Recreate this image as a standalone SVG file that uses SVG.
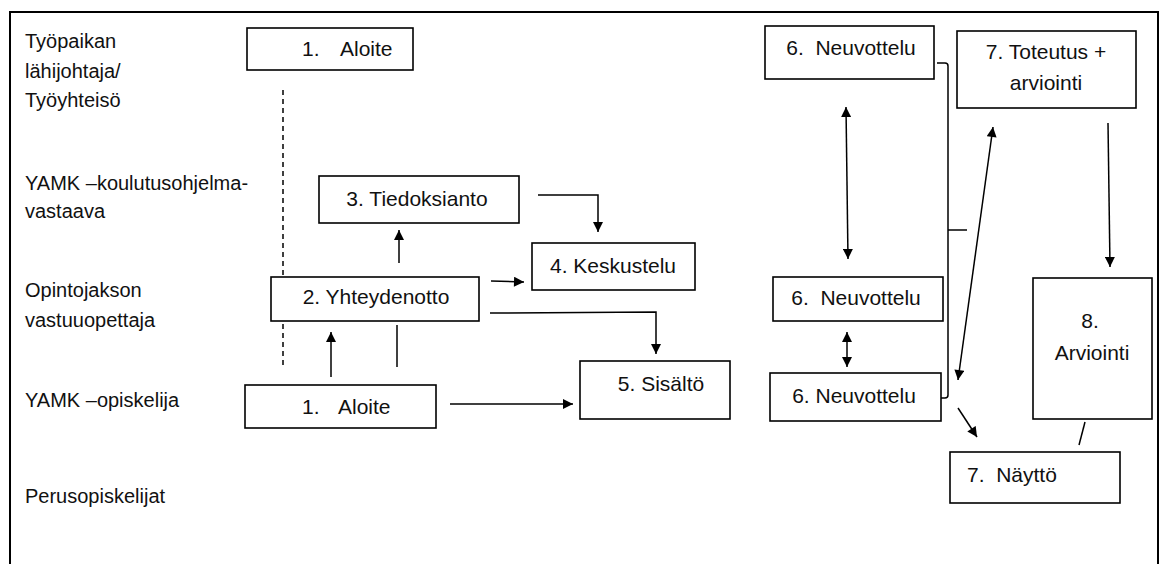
<svg xmlns="http://www.w3.org/2000/svg" width="1164" height="564" viewBox="0 0 1164 564">
<style>
text{font-family:"Liberation Sans",Arial,sans-serif;font-size:20px;fill:#111}
.box{fill:#fff;stroke:#000;stroke-width:1.6}
.ln{fill:none;stroke:#000;stroke-width:1.5}
.c{text-anchor:middle}
.nt{font-size:21px}
</style>
<defs>
<marker id="ah" viewBox="0 0 10 10" refX="10" refY="5" markerWidth="11" markerHeight="10" markerUnits="userSpaceOnUse" orient="auto-start-reverse">
<path d="M0,0 L10,5 L0,10 z" fill="#000"/>
</marker>
</defs>
<rect x="0" y="0" width="1164" height="564" fill="#fff"/>
<path d="M10,564 V12 H1158 V564" fill="none" stroke="#000" stroke-width="2"/>
<g id="lanes">
<text x="25" y="48">Työpaikan</text>
<text x="25" y="78">lähijohtaja/</text>
<text x="25" y="107">Työyhteisö</text>
<text x="25" y="190">YAMK –koulutusohjelma-</text>
<text x="25" y="218">vastaava</text>
<text x="25" y="297">Opintojakson</text>
<text x="25" y="327">vastuuopettaja</text>
<text x="25" y="407">YAMK –opiskelija</text>
<text x="25" y="503">Perusopiskelijat</text>
</g>
<g id="connectors">
<line class="ln" x1="283" y1="90" x2="283" y2="365" stroke-dasharray="5,4"/>
<line class="ln" x1="331" y1="377" x2="331" y2="332" marker-end="url(#ah)"/>
<line class="ln" x1="397" y1="325" x2="397" y2="367"/>
<line class="ln" x1="399" y1="263" x2="399" y2="230" marker-end="url(#ah)"/>
<polyline class="ln" points="538,195 598,195 598,232" marker-end="url(#ah)"/>
<line class="ln" x1="491" y1="281" x2="524" y2="282" marker-end="url(#ah)"/>
<polyline class="ln" points="490,313 656,312 656,354" marker-end="url(#ah)"/>
<line class="ln" x1="450" y1="404" x2="573" y2="404" marker-end="url(#ah)"/>
<line class="ln" x1="846" y1="107" x2="848" y2="259" marker-start="url(#ah)" marker-end="url(#ah)"/>
<line class="ln" x1="847" y1="332" x2="847" y2="367" marker-start="url(#ah)" marker-end="url(#ah)"/>
<path class="ln" d="M937,63 H945 Q948,63 948,66 V395 Q948,398 945,398 H938"/>
<line class="ln" x1="948" y1="230" x2="967" y2="230"/>
<line class="ln" x1="993" y1="127" x2="958" y2="380" marker-start="url(#ah)" marker-end="url(#ah)"/>
<line class="ln" x1="1108" y1="123" x2="1110" y2="267" marker-end="url(#ah)"/>
<line class="ln" x1="958" y1="408" x2="977" y2="437" marker-end="url(#ah)"/>
<line class="ln" x1="1085" y1="422" x2="1079" y2="445"/>
</g>
<g id="n1a">
<rect class="box" x="247" y="28" width="166" height="42"/>
<text class="nt" y="56"><tspan x="302">1.</tspan><tspan x="340">Aloite</tspan></text>
</g>
<g id="n3">
<rect class="box" x="319" y="176" width="200" height="47"/>
<text class="c nt" x="417" y="206">3. Tiedoksianto</text>
</g>
<g id="n4">
<rect class="box" x="532" y="243" width="163" height="47"/>
<text class="c nt" x="613" y="273">4. Keskustelu</text>
</g>
<g id="n2">
<rect class="box" x="271" y="277" width="208" height="44"/>
<text class="c nt" x="376" y="304">2. Yhteydenotto</text>
</g>
<g id="n5">
<rect class="box" x="580" y="361" width="150" height="58"/>
<text class="c nt" x="661" y="391">5. Sisältö</text>
</g>
<g id="n1b">
<rect class="box" x="245" y="385" width="191" height="43"/>
<text class="nt" y="414"><tspan x="302">1.</tspan><tspan x="338">Aloite</tspan></text>
</g>
<g id="n6a">
<rect class="box" x="765" y="26" width="169" height="53"/>
<text class="c nt" x="851" y="55" xml:space="preserve">6.  Neuvottelu</text>
</g>
<g id="n7a">
<rect class="box" x="957" y="31" width="179" height="77"/>
<text class="c nt" x="1046" y="59">7. Toteutus +</text>
<text class="c nt" x="1046" y="90">arviointi</text>
</g>
<g id="n6b">
<rect class="box" x="773" y="277" width="170" height="44"/>
<text class="c nt" x="856" y="305" xml:space="preserve">6.  Neuvottelu</text>
</g>
<g id="n6c">
<rect class="box" x="770" y="373" width="171" height="48"/>
<text class="c nt" x="854" y="403">6. Neuvottelu</text>
</g>
<g id="n8">
<rect class="box" x="1033" y="278" width="119" height="141"/>
<text class="c nt" x="1090" y="328">8.</text>
<text class="c nt" x="1092" y="360">Arviointi</text>
</g>
<g id="n7b">
<rect class="box" x="950" y="452" width="170" height="51"/>
<text class="nt" x="967" y="482" xml:space="preserve">7.  Näyttö</text>
</g>
</svg>
